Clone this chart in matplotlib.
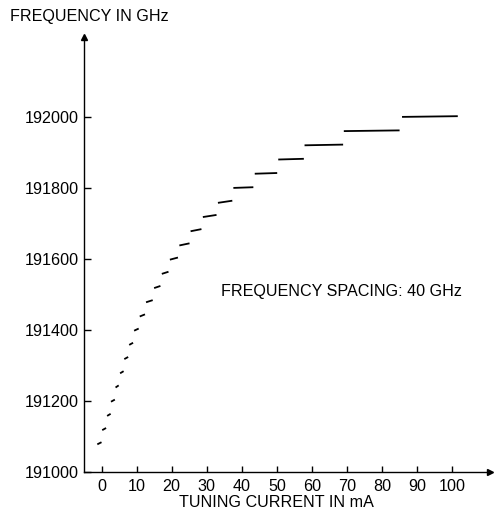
import matplotlib.pyplot as plt

plt.rcParams['font.family'] = ['Liberation Sans', 'DejaVu Sans']

# frequency level of each mode hop step (GHz)
levels = [191080, 191120, 191160, 191200, 191240, 191280, 191320, 191360,
          191400, 191440, 191480, 191520, 191560, 191600, 191640, 191680,
          191720, 191760, 191800, 191840, 191880, 191920, 191960, 192000]
# tuning current where each step starts / ends (mA)
i_start = [-1.2, 0.2, 1.6, 2.7, 4.0, 5.3, 6.5, 7.9, 9.3, 10.9, 12.7, 15.0,
           17.2, 19.5, 22.2, 25.4, 28.9, 33.2, 37.6, 43.7, 50.4, 57.9, 69.1, 85.7]
i_end = [0.0, 1.3, 2.6, 3.8, 4.9, 6.3, 7.6, 9.0, 10.6, 12.4, 14.6, 16.8,
         19.1, 21.8, 25.1, 28.5, 32.8, 37.3, 43.3, 50.1, 57.7, 68.9, 85.0, 101.6]

x_ticks = list(range(0, 101, 10))
y_ticks = [191000, 191200, 191400, 191600, 191800, 192000]

FS = 11.6

fig = plt.figure(figsize=(4.94, 5.18), dpi=100)
ax = fig.add_axes([0.170, 0.0894, 0.822, 0.8392])

for f, a, b in zip(levels, i_start, i_end):
    # short steps lean a little, long ones are nearly flat
    rise = 6 if b - a < 5 else 2
    ax.plot([a, b], [f - rise / 2, f + rise / 2], color='black', lw=1.3,
            solid_capstyle='butt')

ax.set_xlim(-5.0, 110.8)
ax.set_ylim(191000, 192224)

ax.spines['top'].set_visible(False)
ax.spines['right'].set_visible(False)
for s in ('left', 'bottom'):
    ax.spines[s].set_linewidth(1.0)

# arrow heads on the axes
ax.plot(1, 0, marker='>', color='black', markersize=5,
        transform=ax.transAxes, clip_on=False)
ax.plot(0, 1, marker='^', color='black', markersize=5,
        transform=ax.transAxes, clip_on=False)

ax.set_xticks(x_ticks)
ax.set_yticks(y_ticks)
ax.set_yticklabels([str(v) for v in y_ticks])
ax.tick_params(axis='x', direction='in', length=4, width=1.0,
               labelsize=FS, pad=5)
ax.tick_params(axis='y', direction='in', length=5, width=1.0,
               labelsize=FS, pad=4)

ax.annotate('TUNING CURRENT IN mA', xy=(50, 191000), xytext=(0, -22),
            textcoords='offset points', fontsize=FS, ha='center', va='center',
            annotation_clip=False)
fig.text(10 / 494, 1 - 16.7 / 518, 'FREQUENCY IN GHz', fontsize=FS,
         ha='left', va='center')
ax.text(34.2, 191507, 'FREQUENCY SPACING: 40 GHz', fontsize=FS,
        ha='left', va='center')

fig.savefig('out.png', dpi=100)
